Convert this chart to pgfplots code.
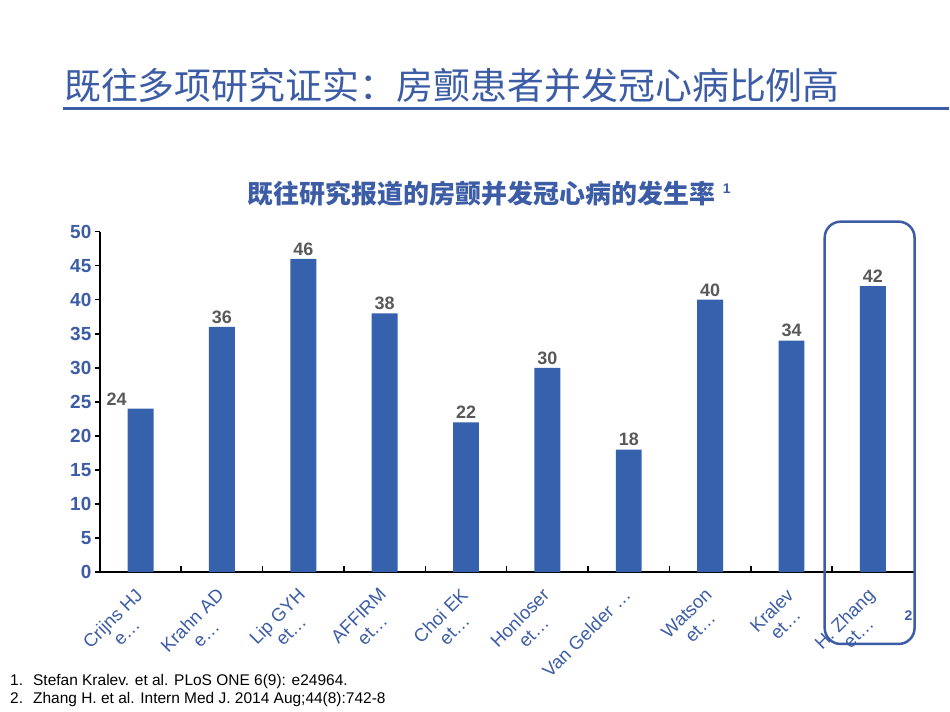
\documentclass[border=0pt]{standalone}
\usepackage{fontspec}
\setmainfont{Liberation Sans}
\newfontfamily\cjk{Noto Sans CJK SC}
\usepackage{pgfplots}
\usepackage{pgfplotstable}
\pgfplotsset{compat=1.18}
\definecolor{tblue}{HTML}{3C5DA6}
\definecolor{barblue}{HTML}{3661AD}
\definecolor{lblgray}{HTML}{595959}

\pgfplotstableread{
x y dx
0 24 -24
1 36 0
2 46 0
3 38 0
4 22 0
5 30 0
6 18 0
7 40 0
8 34 0
9 42 0
}\datatable

\begin{document}
\begin{tikzpicture}
\fill[white] (0,0) rectangle (950pt,-713pt);
\node[anchor=west, font=\cjk\fontsize{37}{40}\selectfont, text=tblue, inner sep=0] at (64pt,-85.5pt) {既往多项研究证实：房颤患者并发冠心病比例高};
\draw[tblue, line width=3pt] (63pt,-108.5pt) -- (950pt,-108.5pt);
\node[anchor=west, font=\cjk\bfseries\fontsize{26}{28}\selectfont, text=tblue, inner sep=0] at (248pt,-193.5pt) {既往研究报道的房颤并发冠心病的发生率};
\node[font=\bfseries\fontsize{14}{16}\selectfont, text=tblue, inner sep=0] at (728pt,-189pt) {1};

\begin{axis}[
  at={(100pt,-573pt)}, anchor=south west,
  scale only axis, width=815pt, height=341pt,
  xmin=-0.5, xmax=9.5, ymin=0, ymax=50,
  axis lines=left,
  x axis line style={-, black, line width=2.5pt},
  y axis line style={-, black, line width=1.8pt},
  ybar, bar width=26pt,
  ytick={0,5,...,50},
  xtick={0,...,9},
  xticklabels={{Crijns HJ\\e…},{Krahn AD\\e…},{Lip GYH\\et…},{AFFIRM\\et…},{Choi EK\\et…},{Honloser\\et…},{Van Gelder …},{Watson\\et…},{Kralev\\et…},{H. Zhang\\et…}},
  tick align=outside, major tick length=5pt,
  xtick style={draw=none},
  ytick style={black, line width=1.5pt},
  yticklabel style={font=\bfseries\fontsize{19}{20}\selectfont, text=tblue},
  xticklabel style={font=\fontsize{18.5}{19.5}\selectfont, text=tblue, rotate=45, anchor=north east, align=center, xshift=-8pt, yshift=1pt},
  /pgf/number format/assume math mode=true,
  nodes near coords,
  nodes near coords style={font=\bfseries\fontsize{18}{19}\selectfont, text=lblgray},
  clip=false,
]
\addplot[fill=barblue, draw=none,
  visualization depends on={\thisrow{dx} \as \dx},
  nodes near coords style={xshift=\dx pt}]
  table[x=x, y=y] {\datatable};
\pgfplotsinvokeforeach{0.5,1.5,...,8.5}{
  \draw[black, line width=1.5pt] (axis cs:#1,0) -- ([yshift=6pt]axis cs:#1,0);
}
\end{axis}

\draw[tblue, line width=2.5pt, rounded corners=16pt] (826pt,-222pt) rectangle (916pt,-645pt);
\node[font=\bfseries\fontsize{14}{16}\selectfont, text=tblue, inner sep=0] at (910pt,-617pt) {2};

\node[anchor=base west, font=\fontsize{15.5}{17}\selectfont, inner sep=0] at (10pt,-687pt) {1.};
\node[anchor=base west, font=\fontsize{15.5}{17}\selectfont, inner sep=0] at (33pt,-687pt) {Stefan Kralev. et al. PLoS ONE 6(9): e24964.};
\node[anchor=base west, font=\fontsize{15.5}{17}\selectfont, inner sep=0] at (10pt,-705pt) {2.};
\node[anchor=base west, font=\fontsize{15.5}{17}\selectfont, inner sep=0] at (33pt,-705pt) {Zhang H. et al. Intern Med J. 2014 Aug;44(8):742-8};
\end{tikzpicture}
\end{document}
